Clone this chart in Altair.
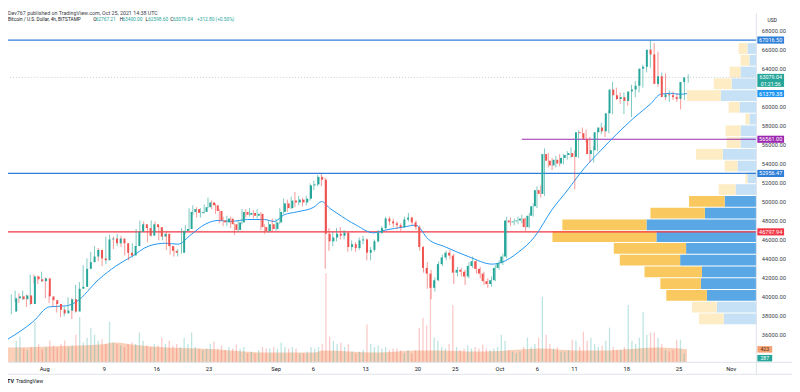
import altair as alt
import numpy as np
import pandas as pd

# ------------------------------------------------------------------ data
# BTC/USD (Bitstamp), read off the picture as 12-hour candles (mid-times)
candle_first_time = "2021-07-28 06:00"
first_open = 38400
closes = [
    39800, 40000, 39700, 40100, 39200, 42100, 41800, 41600,
    41900, 40000, 39600, 39200, 38600, 38200, 38500, 39700, 38400, 40800, 41000, 42900, 43600, 44200,
    44900, 44000, 43800, 46000, 46100, 45600, 46100, 45600, 44600, 44300, 45300, 46800, 47600, 47200,
    46400, 47600, 47300, 46300, 46600, 45300, 44800, 44600, 44600, 46900, 47100, 48900, 49200, 48800,
    48900, 49400, 49900, 49600, 49000, 48000, 47800, 48200, 47600, 47000, 47800, 48900, 48600, 48800,
    48500, 48700, 47300, 46900, 47600, 47100,
    47800, 48900, 49800, 49300, 50100, 49900, 50200, 49900, 50300, 51700, 51800, 52600, 52300, 46600,
    45800, 46200, 46600, 46400, 46700, 45200, 45500, 45100, 45900, 46000, 44600, 44900, 45800, 46700,
    47200, 48200, 47900, 47700, 47500, 47300, 48100, 48300, 47800, 47300, 45200, 43000, 42400, 40900,
    41700, 43400, 44100, 44600, 44300, 42500, 42800, 42600, 42100, 43200, 43700, 42900, 42400, 41600,
    41300, 41700, 43000, 43500,
    44200, 48000, 47800, 47900, 48000, 48200, 47300, 48500, 49500, 51200, 50800, 55000, 54300, 53800,
    54400, 54000, 54600, 54900, 55100, 54700, 57300, 57200, 56600, 55000, 55400, 57300, 57800, 57400,
    59300, 61800, 61200, 60800, 61000, 60600, 61600, 61800, 62200, 64000, 64200, 66000, 65500, 62400,
    63200, 61000, 61300, 61200, 61000, 60800, 62600, 63079.04,
]
highs = [
    40200, 40600, 40300, 40600, 40200, 42300, 42300, 42200,
    42600, 42000, 40400, 39800, 39400, 38900, 38900, 39900, 39800, 41200, 41500, 43300, 44000, 44700,
    45300, 45100, 44400, 46300, 46500, 46300, 46600, 46400, 45800, 44900, 45600, 47100, 48000, 47900,
    47300, 48000, 47900, 47500, 47200, 46800, 45500, 45300, 45000, 47200, 47500, 49300, 49600, 49400,
    49300, 49700, 50400, 50100, 49800, 49200, 48400, 48500, 48400, 47700, 48000, 49200, 49200, 49300,
    49100, 49200, 48900, 47600, 48000, 48200,
    48200, 49300, 50300, 50200, 50500, 51000, 50600, 50400, 50600, 51900, 52200, 52800, 52900, 52500,
    47200, 46800, 47200, 47300, 47000, 46800, 45900, 45700, 46200, 46400, 46100, 45200, 46000, 47000,
    47400, 48400, 48400, 48200, 47900, 47700, 48400, 48800, 48400, 48000, 47500, 45300, 43600, 42800,
    42000, 43700, 44400, 44800, 44900, 44500, 43100, 43000, 42800, 43600, 44200, 43800, 43100, 42600,
    41900, 42100, 43300, 43800,
    44500, 48400, 48300, 48200, 48400, 48600, 48300, 48800, 49800, 51600, 51700, 55600, 55100, 54600,
    54800, 55000, 55000, 55300, 55700, 55400, 57500, 57800, 57600, 56800, 55800, 57600, 58300, 58000,
    59600, 62600, 62000, 61500, 61500, 61400, 62300, 62700, 62700, 64400, 64600, 67016.5, 66700, 65800,
    63600, 63500, 61700, 61600, 61400, 61200, 62800, 63400,
]
lows = [
    38100, 39400, 39300, 39600, 38900, 39100, 41400, 41300,
    41500, 39800, 39300, 38900, 38300, 37800, 37900, 38400, 37600, 38300, 40500, 40900, 42800, 43400,
    44000, 43700, 43200, 43400, 45400, 45000, 45300, 45200, 44300, 43800, 44100, 45200, 46700, 46900,
    45700, 46300, 46800, 45900, 45900, 44900, 44400, 44200, 44200, 44500, 46600, 46900, 48600, 48300,
    48300, 48700, 49300, 49200, 48700, 47700, 47400, 47400, 47200, 46500, 46800, 47600, 48300, 48400,
    48200, 48200, 47000, 46600, 46700, 46800,
    46900, 47600, 48700, 48900, 49200, 49400, 49600, 49500, 49600, 50100, 51200, 51600, 51600, 42900,
    44800, 45300, 45800, 46000, 46000, 44700, 44800, 44700, 44900, 45500, 43800, 43800, 44700, 45700,
    46600, 47100, 47500, 47300, 47100, 46900, 47200, 47900, 47500, 47000, 44800, 42500, 40800, 39700,
    40500, 41600, 43200, 43800, 43900, 41300, 42100, 42100, 41200, 41900, 43000, 42400, 41900, 41200,
    40900, 41000, 41600, 42800,
    43300, 44000, 47400, 47500, 47600, 47700, 46900, 47200, 48400, 49300, 50400, 50600, 53600, 53300,
    53600, 53700, 53900, 54400, 54600, 51300, 54600, 56800, 56200, 54100, 54100, 55300, 57100, 56800,
    57200, 59200, 60700, 60300, 59200, 60100, 58900, 61000, 61500, 62000, 63600, 64100, 65000, 62100,
    62100, 60700, 60500, 60700, 60500, 59700, 60700, 62500,
]
volumes = [
    700, 840, 450, 400, 500, 1320, 600, 420,
    500, 710, 550, 480, 600, 710, 500, 560, 900, 1480, 650, 800, 1130, 900,
    700, 750, 600, 1320, 650, 600, 550, 500, 600, 650, 600, 970, 700, 550,
    500, 600, 550, 810, 600, 700, 550, 600, 500, 800, 600, 970, 500, 450,
    400, 450, 600, 680, 450, 550, 400, 500, 450, 580, 450, 500, 300, 350,
    300, 400, 500, 450, 450, 500,
    450, 650, 500, 450, 500, 450, 300, 300, 350, 500, 450, 500, 600, 2900,
    840, 700, 600, 650, 500, 600, 350, 300, 350, 400, 1230, 600, 500, 550,
    450, 500, 400, 450, 450, 400, 300, 400, 300, 400, 1130, 1450, 1200, 2580,
    800, 700, 500, 450, 600, 1870, 500, 400, 450, 550, 450, 500, 450, 580,
    450, 400, 450, 500,
    900, 700, 400, 350, 300, 350, 500, 810, 500, 600, 800, 2130, 900, 600,
    450, 500, 350, 350, 400, 740, 700, 500, 1000, 700, 800, 600, 500, 550,
    700, 1130, 500, 400, 400, 500, 1870, 700, 600, 800, 1650, 900, 970, 970,
    800, 600, 400, 350, 400, 740, 740, 287,
]

# moving average of price (blue line)
ma_times = [
    "2021-07-27 19:30", "2021-07-31 02:00", "2021-08-02 07:00", "2021-08-04 12:00", "2021-08-05 19:00",
    "2021-08-08 20:00", "2021-08-11 02:00", "2021-08-13 04:00", "2021-08-15 10:00", "2021-08-17 15:00",
    "2021-08-19 07:00", "2021-08-21 00:00", "2021-08-22 21:00", "2021-08-24 14:00", "2021-08-26 06:00",
    "2021-08-28 12:00", "2021-08-30 17:00", "2021-09-01 00:00", "2021-09-02 08:00", "2021-09-04 00:00",
    "2021-09-06 06:00", "2021-09-07 07:00", "2021-09-08 08:00", "2021-09-09 06:00", "2021-09-10 14:00",
    "2021-09-11 21:00", "2021-09-14 03:00", "2021-09-15 19:00", "2021-09-18 01:00", "2021-09-19 17:00",
    "2021-09-21 10:00", "2021-09-23 16:00", "2021-09-26 16:00", "2021-09-29 20:00", "2021-10-01 03:00",
    "2021-10-03 05:00", "2021-10-05 11:00", "2021-10-07 17:00", "2021-10-09 19:00", "2021-10-12 00:00",
    "2021-10-14 05:00", "2021-10-16 07:00", "2021-10-18 13:00", "2021-10-20 19:00", "2021-10-22 02:00",
    "2021-10-23 10:00", "2021-10-24 17:00", "2021-10-25 14:00",
]
ma_values = [
    35500, 37300, 38900, 39000, 39400, 41800, 43200, 44200, 45300, 45600,
    45500, 46500, 47600, 48000, 47900, 48100, 48100, 47900, 48600, 48900,
    49400, 50000, 49300, 48800, 48100, 47500, 46700, 47000, 47300, 47500,
    46000, 45200, 44200, 43400, 43600, 44600, 46300, 49100, 51200, 53500,
    55400, 57100, 58800, 60300, 61300, 61400, 61300, 61379.38,
]

# moving average of volume (orange area)
vol_ma_times = [
    "2021-07-27 19:30", "2021-08-02 07:00", "2021-08-08 20:00", "2021-08-11 02:00", "2021-08-13 04:00",
    "2021-08-17 15:00", "2021-08-21 22:00", "2021-08-26 06:00", "2021-08-30 17:00", "2021-09-06 06:00",
    "2021-09-07 13:00", "2021-09-14 12:00", "2021-09-20 03:00", "2021-09-23 06:00", "2021-09-27 14:00",
    "2021-10-01 21:00", "2021-10-06 08:00", "2021-10-10 16:00", "2021-10-15 00:00", "2021-10-21 13:00",
    "2021-10-25 14:00",
]
vol_ma_values = [480, 520, 580, 650, 580, 480, 450, 390, 320, 320,
                 390, 320, 390, 390, 350, 390, 450, 390, 390, 480, 423]

# visible-range volume profile (rows bottom -> top)
profile_low = [37060, 38299, 39538, 40777, 42016, 43255, 44494, 45733, 46972, 48211, 49450, 50689,
               51928, 53167, 54406, 55645, 56884, 58123, 59362, 60601, 61840, 63079, 64318, 65557]
profile_high = [38299, 39538, 40777, 42016, 43255, 44494, 45733, 46972, 48211, 49450, 50689, 51928,
                53167, 54406, 55645, 56884, 58123, 59362, 60601, 61840, 63079, 64318, 65557, 66796]
profile_up = [3.3, 4.0, 5.0, 5.6, 5.5, 7.7, 7.1, 10.1, 11.1, 5.2, 3.2, 2.1,
              0.9, 1.9, 3.4, 1.6, 1.6, 0.7, 1.7, 3.6, 2.5, 1.6, 0.7, 0.9]
profile_down = [2.5, 2.5, 4.1, 4.1, 5.8, 6.1, 7.3, 10.5, 8.5, 5.5, 3.6, 1.7,
                0.2, 1.3, 2.7, 1.4, 1.5, 0.4, 1.1, 3.4, 1.8, 1.1, 0.9, 0.9]
profile_in_value_area = [False, False, True, True, True, True, True, True, True, True, True, False,
                         False, False, False, False, False, False, False, False, False, False, False, False]

level_high = 67016.50
level_mid = 52956.47
level_poc = 46797.94
level_purple = 56561.00
purple_start = "2021-10-03 18:00"
last_price = 63079.04
countdown = "01:21:56"
ma_last = 61379.38
vol_ma_last = 423
vol_last = 287

header = "Dev767 published on TradingView.com, Oct 25, 2021 14:38 UTC"
symbol = "Bitcoin / U.S. Dollar, 4h, BITSTAMP"
ohlc_keys = ["O", "H", "L", "C"]
ohlc_vals = ["62767.21", "63400.00", "62598.60", "63079.04"]
change_txt = "+312.80 (+0.50%)"

tick_dates = ["2021-08-01", "2021-08-09", "2021-08-16", "2021-08-23", "2021-09-01", "2021-09-06",
              "2021-09-13", "2021-09-20", "2021-09-25", "2021-10-01", "2021-10-06", "2021-10-11",
              "2021-10-18", "2021-10-25", "2021-11-01"]
# price ticks every 2000 (62000 and 34000 sit behind the price labels)
price_ticks = [36000, 38000, 40000, 42000, 44000, 46000, 48000, 50000, 52000, 54000,
               56000, 58000, 60000, 64000, 66000, 68000]

# ------------------------------------------------------------------ styles / layout
UP, DOWN = "#26a69a", "#ef5350"
BLUE, RED, PURPLE, MA_BLUE = "#2f7ed8", "#f23645", "#9c27b0", "#2196f3"
DARK, GRID = "#131722", "#e0e3eb"
FONT = "Roboto"
W, H = 756, 353


def ms(s):
    return int(pd.Timestamp(s, tz="UTC").value // 10**6)


X_DOM = [ms("2021-07-27 19:29"), ms("2021-11-03 18:15")]
XS = alt.Scale(type="utc", domain=X_DOM)
YS = alt.Scale(domain=[33046, 69878], nice=False, zero=False)
VS = alt.Scale(domain=[0, 4000], range=[H, H - 124], nice=False)
PS = alt.Scale(domain=[0, 40], range=[W, W - 400], nice=False)


def X(field="t", axis=None):
    return alt.X(f"{field}:T", scale=XS, axis=axis)


def Y(field, scale=YS, axis=None):
    return alt.Y(f"{field}:Q", scale=scale, axis=axis)


def NOCOL(f="col"):
    return alt.Color(f"{f}:N", scale=None)


# ------------------------------------------------------------------ frames
times = pd.date_range(candle_first_time, periods=len(closes), freq="12h", tz="UTC")
opens = [first_open] + closes[:-1]
cdf = pd.DataFrame({"t": times.asi8 // 10**6, "o": opens, "h": highs, "l": lows,
                    "c": closes, "v": volumes})
cdf["col"] = np.where(cdf["c"] >= cdf["o"], UP, DOWN)

ma_df = pd.DataFrame({"t": [ms(s) for s in ma_times], "p": ma_values})
vma_df = pd.DataFrame({"t": [ms(s) for s in vol_ma_times], "v": vol_ma_values})

rows = []
for lo, hi, u, d, va in zip(profile_low, profile_high, profile_up, profile_down, profile_in_value_area):
    rows.append({"lo": lo, "hi": hi, "a": 0, "b": u, "col": "#5aa7e5" if va else "#c6e1f6"})
    rows.append({"lo": lo, "hi": hi, "a": u, "b": u + d, "col": "#f9c95f" if va else "#fdecc4"})
prof_df = pd.DataFrame(rows)

one = pd.DataFrame({"k": [0]})

# ------------------------------------------------------------------ layers
x_axis = alt.Axis(values=[ms(d) for d in tick_dates],
                  labelExpr="utcdate(datum.value) == 1 ? utcFormat(datum.value, '%b') : utcFormat(datum.value, '%-d')",
                  grid=False, ticks=False, domain=False, labelFontSize=5.8, labelColor=DARK,
                  labelFont=FONT, labelPadding=3, title=None, labelOverlap=False, labelFlush=False)
y_axis = alt.Axis(orient="right", values=price_ticks, format=".2f", grid=False, ticks=False,
                  domain=False, labelFontSize=5.8, labelColor="#3c4049", labelFont=FONT,
                  labelPadding=5, title=None, labelOverlap=False, labelBaseline="middle")

vol_area = alt.Chart(vma_df).mark_area(color="#f6a173", opacity=0.5, interpolate="monotone").encode(
    x=X(), y=Y("v", VS))
vol_bars = alt.Chart(cdf).mark_bar(size=1.3, opacity=0.3).encode(
    x=X(), y=Y("v", VS), color=NOCOL())

profile = alt.Chart(prof_df).mark_rect(y2Offset=1).encode(
    x=alt.X("a:Q", scale=PS, axis=None), x2="b:Q", y=Y("lo"), y2="hi:Q", color=NOCOL())

hl_df = pd.DataFrame({"p": [level_high, level_mid, level_poc], "col": [BLUE, BLUE, RED]})
hlines = alt.Chart(hl_df).mark_rule(strokeWidth=1.2).encode(y=Y("p"), color=NOCOL())
purple = alt.Chart(pd.DataFrame({"t": [ms(purple_start)], "p": [level_purple]})).mark_rule(
    color=PURPLE, strokeWidth=1).encode(x=X(), x2=alt.value(W), y=Y("p"))
last_line = alt.Chart(pd.DataFrame({"p": [last_price]})).mark_rule(
    color="#8a96a3", strokeDash=[1, 2], strokeWidth=0.8, opacity=0.6).encode(y=Y("p"))

ma_line = alt.Chart(ma_df).mark_line(color=MA_BLUE, strokeWidth=1.0, interpolate="monotone").encode(
    x=X(), y=Y("p"))

wicks = alt.Chart(cdf).mark_rule(strokeWidth=0.6).encode(x=X(), y=Y("l"), y2="h:Q", color=NOCOL())
bodies = alt.Chart(cdf).mark_bar(size=2.0).encode(
    x=X(axis=x_axis), y=Y("o", axis=y_axis), y2="c:Q", color=NOCOL())

# right-hand price labels
lab_df = pd.DataFrame({"p": [level_high, ma_last, level_purple, level_mid, level_poc],
                       "label": [f"{level_high:.2f}", f"{ma_last:.2f}", f"{level_purple:.2f}",
                                 f"{level_mid:.2f}", f"{level_poc:.2f}"],
                       "col": [BLUE, MA_BLUE, PURPLE, BLUE, RED]})
lab_box = alt.Chart(lab_df).mark_rect(yOffset=-3.6, y2Offset=3.6).encode(
    x=alt.value(757), x2=alt.value(784), y=Y("p"), y2="p:Q", color=NOCOL())
lab_txt = alt.Chart(lab_df).mark_text(fontSize=5.6, font=FONT, color="white", baseline="middle").encode(
    x=alt.value(770.5), y=Y("p"), text="label:N")

lp_df = pd.DataFrame({"p": [last_price], "a": [f"{last_price:.2f}"], "b": [countdown]})
lp_box = alt.Chart(lp_df).mark_rect(yOffset=-3.6, y2Offset=9.6, color=UP).encode(
    x=alt.value(757), x2=alt.value(784), y=Y("p"), y2="p:Q")
lp_t1 = alt.Chart(lp_df).mark_text(fontSize=5.4, font=FONT, color="white", baseline="middle").encode(
    x=alt.value(770.5), y=Y("p"), text="a:N")
lp_t2 = alt.Chart(lp_df).mark_text(fontSize=5.2, font=FONT, color="white", baseline="middle", dy=6.4).encode(
    x=alt.value(770.5), y=Y("p"), text="b:N")

vl_df = pd.DataFrame({"v": [vol_ma_last, vol_last], "label": [str(vol_ma_last), str(vol_last)],
                      "col": ["#f6a173", UP]})
vl_box1 = alt.Chart(vl_df.iloc[[0]]).mark_rect(yOffset=-3.3, y2Offset=3.3).encode(
    x=alt.value(757), x2=alt.value(772), y=Y("v", VS), y2="v:Q", color=NOCOL())
vl_box2 = alt.Chart(vl_df.iloc[[1]]).mark_rect(yOffset=4.7 - 3.3, y2Offset=4.7 + 3.3).encode(
    x=alt.value(757), x2=alt.value(772), y=Y("v", VS), y2="v:Q", color=NOCOL())
vl_t1 = alt.Chart(vl_df.iloc[[0]]).mark_text(fontSize=5.2, font=FONT, color="#4a2a10", baseline="middle").encode(
    x=alt.value(764.5), y=Y("v", VS), text="label:N")
vl_t2 = alt.Chart(vl_df.iloc[[1]]).mark_text(fontSize=5.2, font=FONT, color="white", baseline="middle", dy=4.7).encode(
    x=alt.value(764.5), y=Y("v", VS), text="label:N")

# header / legend
head = alt.Chart(one).mark_text(align="left", baseline="middle", fontSize=5.4, font=FONT, color="#3c4049").encode(
    x=alt.value(0), y=alt.value(-0.3), text=alt.value(header))
leg_rows = [{"x": 0, "text": symbol, "col": DARK}]
for xk, k, v in zip([86, 113, 139, 164], ohlc_keys, ohlc_vals):
    leg_rows.append({"x": xk, "text": k, "col": DARK})
    leg_rows.append({"x": xk + 2.6, "text": v, "col": UP})
leg_rows.append({"x": 191, "text": change_txt, "col": UP})
legend = alt.Chart(pd.DataFrame(leg_rows)).mark_text(align="left", baseline="middle", fontSize=4.8, font=FONT).encode(
    x=alt.X("x:Q", scale=None), y=alt.value(7.5), text="text:N", color=NOCOL())
usd = alt.Chart(one).mark_text(baseline="middle", fontSize=5, font=FONT, color=DARK).encode(
    x=alt.value(772), y=alt.value(7), text=alt.value("USD"))
logo1 = alt.Chart(one).mark_text(align="left", baseline="middle", fontSize=5.5, font=FONT, fontWeight="bold", color=DARK).encode(
    x=alt.value(-1), y=alt.value(372), text=alt.value("TV"))
logo2 = alt.Chart(one).mark_text(align="left", baseline="middle", fontSize=5, font=FONT, color=DARK).encode(
    x=alt.value(8), y=alt.value(372), text=alt.value("TradingView"))

# frame lines
vline = alt.Chart(one).mark_rule(color=GRID, strokeWidth=1).encode(
    x=alt.value(W), y=alt.value(0), y2=alt.value(365))
bline1 = alt.Chart(one).mark_rule(color=GRID, strokeWidth=1).encode(
    y=alt.value(H), x=alt.value(0), x2=alt.value(792))
bline2 = alt.Chart(one).mark_rule(color=GRID, strokeWidth=1).encode(
    y=alt.value(365), x=alt.value(0), x2=alt.value(792))

chart = alt.layer(
    vol_area, vol_bars, profile, last_line, hlines, purple, ma_line, wicks, bodies,
    lab_box, lab_txt, lp_box, lp_t1, lp_t2, vl_box1, vl_box2, vl_t1, vl_t2,
    head, legend, usd, logo1, logo2, vline, bline1, bline2,
).resolve_scale(x="independent", y="independent", color="independent").properties(
    width=W, height=H,
    padding={"left": 0, "top": 3, "right": 36, "bottom": 28},
    autosize=alt.AutoSizeParams(type="none"),
    background="white",
).configure_view(strokeWidth=0)

chart.save("out.html", embed_options={"renderer": "svg", "actions": False})
